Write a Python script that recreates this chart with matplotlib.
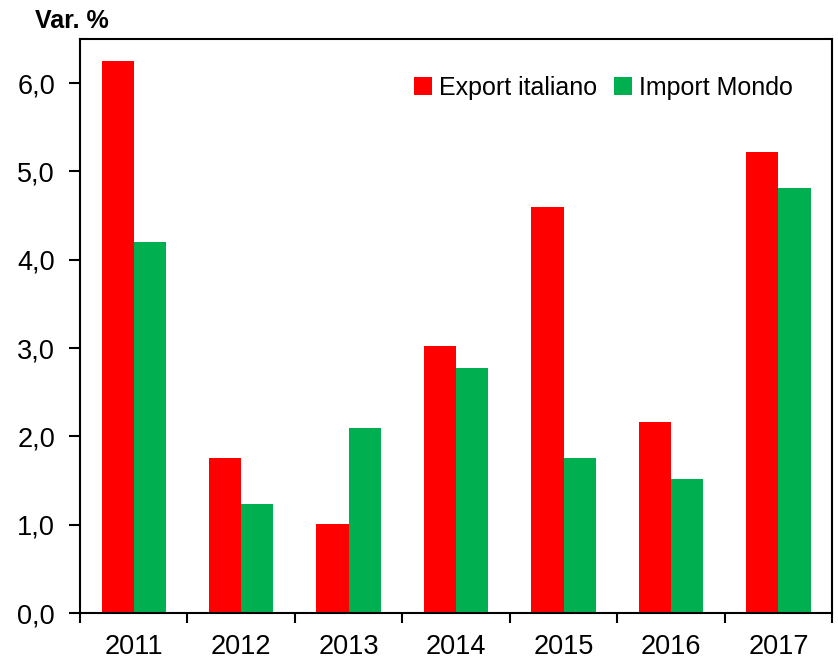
import numpy as np
import matplotlib.pyplot as plt
from matplotlib.ticker import FixedLocator, FuncFormatter

plt.rcParams['font.family'] = ['Liberation Sans', 'DejaVu Sans']

anni = ["2011", "2012", "2013", "2014", "2015", "2016", "2017"]
export_italiano = [6.25, 1.75, 1.01, 3.02, 4.60, 2.16, 5.22]
import_mondo = [4.20, 1.24, 2.09, 2.77, 1.75, 1.52, 4.81]

x = np.arange(len(anni))
w = 0.3

fig = plt.figure(figsize=(8.38, 6.59), dpi=100)
ax = fig.add_axes([0.0955, 0.0698, 0.8975, 0.871])

ax.bar(x - w / 2, export_italiano, width=w, color="#FF0000", label="Export italiano")
ax.bar(x + w / 2, import_mondo, width=w, color="#00B050", label="Import Mondo")

ax.set_xlim(-0.5, len(anni) - 0.5)
ax.set_ylim(0, 6.5)
ax.yaxis.set_major_locator(FixedLocator(np.arange(0, 6.01, 1.0)))
ax.yaxis.set_major_formatter(FuncFormatter(lambda v, p: f"{v:.1f}".replace(".", ",")))

# etichette al centro, tacche ai confini delle categorie
ax.set_xticks(x)
ax.set_xticklabels(anni)
ax.tick_params(axis="x", which="major", length=0, pad=15, labelsize=19.5)
ax.set_xticks(np.arange(-0.5, len(anni) - 0.4, 1.0), minor=True)
ax.tick_params(axis="x", which="minor", length=7, width=1.5, direction="out")
ax.tick_params(axis="y", length=8, width=1.5, direction="out", labelsize=19.5, pad=10)

for s in ax.spines.values():
    s.set_linewidth(1.5)

ax.text(-0.06, 1.01, "Var. %", transform=ax.transAxes, fontsize=18,
        fontweight="bold", ha="left", va="bottom")

ax.legend(loc="upper right", bbox_to_anchor=(0.978, 0.975), frameon=False,
          fontsize=18, ncol=2, handlelength=0.72, handleheight=0.72,
          handletextpad=0.3, columnspacing=0.65)

fig.savefig("out.png", dpi=100)
